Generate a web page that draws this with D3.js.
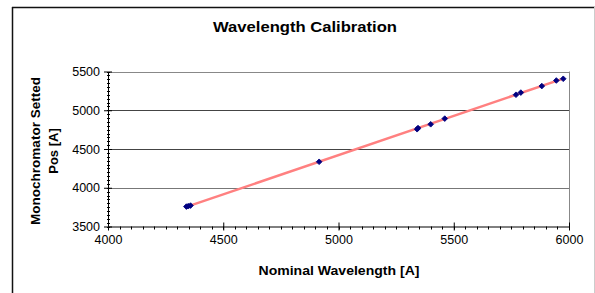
<!DOCTYPE html>
<html>
<head>
<meta charset="utf-8">
<script src="https://cdn.jsdelivr.net/npm/d3@7"></script>
<style>
  body { margin: 0; background: #fff; }
  svg { display: block; font-family: Arial, "Liberation Sans", sans-serif; }
</style>
</head>
<body>
<div id="chart"></div>
<script>
// nominal wavelength [A] vs monochromator setted position [A]
const wavelengths = [4340, 4348, 4358, 4916, 5341, 5345, 5400, 5461, 5770, 5791, 5882, 5945, 5975];
const positions   = [3757, 3762, 3770, 4335, 4755, 4770, 4819, 4892, 5200, 5228, 5312, 5384, 5406];
const xTicks = [4000, 4500, 5000, 5500, 6000];
const yTicks = [3500, 4000, 4500, 5000, 5500];

const W = 595, H = 293;
const plot = { left: 108, right: 569, top: 71.5, bottom: 226.5 };

const svg = d3.select('#chart').append('svg')
  .attr('width', W)
  .attr('height', H);

// chart area border
svg.append('line').attr('x1', 12.5).attr('x2', 12.5).attr('y1', 7).attr('y2', H)
  .attr('stroke', '#111').attr('stroke-width', 1.5);
svg.append('line').attr('x1', 12).attr('x2', 595).attr('y1', 7.5).attr('y2', 7.5)
  .attr('stroke', '#111').attr('stroke-width', 1.5);
svg.append('line').attr('x1', 594.5).attr('x2', 594.5).attr('y1', 7).attr('y2', H)
  .attr('stroke', '#ccc').attr('stroke-width', 1);

const x = d3.scaleLinear().domain([4000, 6000]).range([plot.left, plot.right]);
const y = d3.scaleLinear().domain([3500, 5500]).range([plot.bottom, plot.top]);

// gridlines
svg.append('g')
  .selectAll('line')
  .data(yTicks.slice(1))
  .join('line')
  .attr('x1', plot.left).attr('x2', plot.right)
  .attr('y1', d => Math.round(y(d)) + 0.5)
  .attr('y2', d => Math.round(y(d)) + 0.5)
  .attr('stroke', (d, i) => i === 0 ? '#777' : '#444')
  .attr('stroke-width', 1);

// plot area border (top and right)
svg.append('line')
  .attr('x1', plot.right + 0.5).attr('x2', plot.right + 0.5)
  .attr('y1', plot.top).attr('y2', plot.bottom)
  .attr('stroke', '#888');
svg.append('line')
  .attr('x1', plot.left).attr('x2', plot.right)
  .attr('y1', Math.round(y(5500)) + 0.5).attr('y2', Math.round(y(5500)) + 0.5)
  .attr('stroke', '#888');

// minor ticks
const xMinor = d3.range(4000, 6001, 50);
const yMinor = d3.range(3500, 5501, 50);
svg.append('g')
  .attr('transform', `translate(0,${plot.bottom})`)
  .selectAll('line')
  .data(xMinor)
  .join('line')
  .attr('x1', d => Math.round(x(d)) + 0.5).attr('x2', d => Math.round(x(d)) + 0.5)
  .attr('y1', 0).attr('y2', 3)
  .attr('stroke', '#000');
svg.append('g')
  .attr('transform', `translate(${plot.left},0)`)
  .selectAll('line')
  .data(yMinor)
  .join('line')
  .attr('y1', d => Math.round(y(d)) + 0.5).attr('y2', d => Math.round(y(d)) + 0.5)
  .attr('x1', -1).attr('x2', 2)
  .attr('stroke', '#000');

// axes
const fmt = d3.format('d');
const xAxis = svg.append('g')
  .attr('transform', `translate(0,${plot.bottom})`)
  .call(d3.axisBottom(x).tickValues(xTicks).tickFormat(fmt).tickSize(4).tickSizeOuter(0).tickPadding(5));
xAxis.selectAll('.tick line').attr('y1', -4);
const yAxis = svg.append('g')
  .attr('transform', `translate(${plot.left},0)`)
  .call(d3.axisLeft(y).tickValues(yTicks).tickFormat(fmt).tickSize(4).tickSizeOuter(0).tickPadding(4));
yAxis.selectAll('.tick line').attr('x1', 4);

[xAxis, yAxis].forEach(a => {
  a.select('.domain').attr('stroke', '#000');
  a.selectAll('text')
    .attr('font-family', 'Arial, "Liberation Sans", sans-serif')
    .attr('font-size', 12.5)
    .attr('fill', '#000');
});

// linear trendline (least squares)
const mx = d3.mean(wavelengths), my = d3.mean(positions);
const slope = d3.sum(wavelengths, (v, i) => (v - mx) * (positions[i] - my)) /
              d3.sum(wavelengths, v => (v - mx) * (v - mx));
const icpt = my - slope * mx;
const [x0, x1] = d3.extent(wavelengths);
svg.append('line')
  .attr('x1', x(x0)).attr('y1', y(slope * x0 + icpt))
  .attr('x2', x(x1)).attr('y2', y(slope * x1 + icpt))
  .attr('stroke', '#ff8080')
  .attr('stroke-width', 2.5);

// markers (Excel-style diamonds)
svg.append('g')
  .selectAll('path')
  .data(wavelengths.map((w, i) => [w, positions[i]]))
  .join('path')
  .attr('transform', d => `translate(${x(d[0])},${y(d[1])}) rotate(45)`)
  .attr('d', d3.symbol(d3.symbolSquare, 16))
  .attr('fill', '#000080')
  .attr('stroke', '#000080')
  .attr('stroke-width', 0.8);

// titles (stretched slightly to the widths seen in the original)
svg.append('text')
  .attr('x', 305).attr('y', 32)
  .attr('text-anchor', 'middle')
  .attr('font-size', 15).attr('font-weight', 'bold')
  .attr('textLength', 184).attr('lengthAdjust', 'spacingAndGlyphs')
  .text('Wavelength Calibration');

svg.append('text')
  .attr('x', 339).attr('y', 274.5)
  .attr('text-anchor', 'middle')
  .attr('font-size', 13).attr('font-weight', 'bold')
  .attr('textLength', 161).attr('lengthAdjust', 'spacingAndGlyphs')
  .text('Nominal Wavelength [A]');

const yTitle = svg.append('g')
  .attr('transform', 'translate(0,151) rotate(-90)')
  .attr('font-size', 13).attr('font-weight', 'bold');
yTitle.append('text')
  .attr('x', 0).attr('y', 39.5)
  .attr('text-anchor', 'middle')
  .attr('textLength', 148).attr('lengthAdjust', 'spacingAndGlyphs')
  .text('Monochromator Setted');
yTitle.append('text')
  .attr('x', 0).attr('y', 57.5)
  .attr('text-anchor', 'middle')
  .text('Pos [A]');
</script>
</body>
</html>
